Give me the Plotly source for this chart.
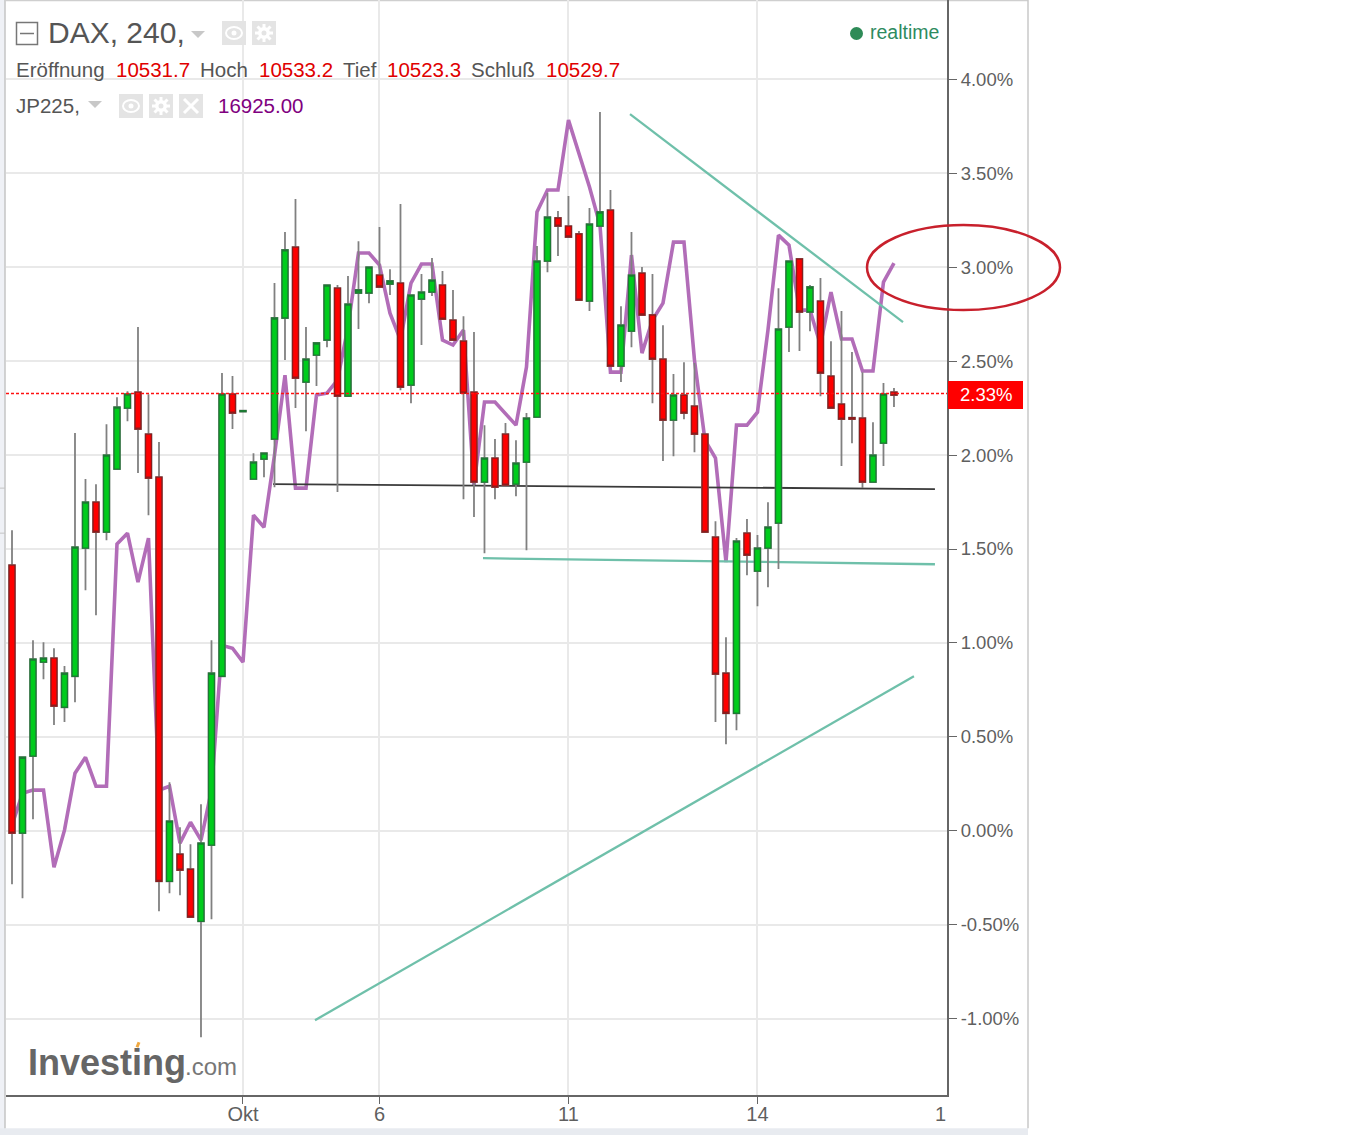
import plotly.graph_objects as go

# --- data (percent change) ---
BAR_INDEX = list(range(85))
OPEN = [1.414,-0.012,0.398,0.898,0.919,0.658,0.823,1.505,1.749,1.590,1.925,2.250,2.335,2.111,1.882,-0.268,-0.124,-0.204,-0.481,-0.076,
        0.823,2.324,2.231,1.872,1.978,2.085,2.729,3.106,2.388,2.532,2.612,2.888,2.313,2.862,2.862,2.957,2.910,2.915,2.372,2.830,
        2.867,2.904,2.718,2.606,2.335,1.856,1.984,2.111,1.845,1.962,2.202,3.032,3.261,3.218,3.176,2.819,3.218,3.303,2.473,2.659,
        2.968,2.745,2.510,2.186,2.319,2.260,2.111,1.563,0.839,0.626,1.584,1.382,1.505,1.638,2.681,3.043,2.761,2.819,2.420,2.271,
        2.199,2.196,1.856,2.063,2.335]
HIGH = [1.600,0.392,1.015,1.004,0.972,0.877,2.117,1.872,1.845,2.164,2.308,2.340,2.681,2.324,2.069,0.259,0.020,-0.071,0.142,1.015,
        2.436,2.420,2.236,2.010,2.010,2.915,3.186,3.362,2.681,2.596,2.904,2.904,2.952,3.138,3.000,3.213,2.989,3.335,2.851,2.963,
        3.048,2.979,2.878,2.739,2.654,2.159,2.085,2.170,2.079,2.223,3.112,3.394,3.298,3.378,3.192,3.314,3.825,3.410,2.792,3.186,
        3.000,2.963,2.691,2.431,2.494,2.489,2.111,1.648,1.031,1.558,1.659,1.574,1.749,2.888,3.032,3.043,2.904,2.942,2.606,2.766,
        2.548,2.441,2.175,2.383,2.356]
LOW = [-0.284,-0.358,0.062,0.807,0.563,0.579,0.685,1.281,1.148,1.547,1.925,2.180,1.904,1.680,-0.427,-0.332,-0.342,-0.459,-1.098,-0.470,
       0.823,2.138,2.231,1.872,1.882,1.829,2.505,2.250,2.127,2.367,2.574,1.803,2.313,2.670,2.808,2.894,2.851,2.345,2.276,2.585,
       2.846,2.723,2.612,1.765,1.670,1.478,1.765,1.840,1.781,1.494,2.202,2.973,3.059,3.160,2.824,2.766,3.218,2.473,2.388,2.574,
       2.745,2.276,1.968,1.994,2.191,2.015,1.590,0.579,0.461,0.536,1.361,1.196,1.297,1.393,2.548,2.553,2.659,2.313,2.250,1.941,
       2.063,1.824,1.856,1.941,2.255]
CLOSE = [-0.012,0.392,0.914,0.919,0.664,0.839,1.510,1.749,1.590,1.999,2.255,2.324,2.138,1.877,-0.268,0.052,-0.209,-0.459,-0.065,0.839,
         2.324,2.223,2.236,1.962,2.010,2.729,3.091,2.409,2.510,2.596,2.904,2.313,2.803,2.878,3.000,2.894,2.926,2.361,2.851,2.867,
         2.931,2.723,2.612,2.329,1.856,1.984,1.829,1.840,1.957,2.196,3.032,3.266,3.218,3.160,2.824,3.229,3.293,2.473,2.691,2.957,
         2.745,2.510,2.186,2.319,2.223,2.111,1.590,0.834,0.626,1.542,1.467,1.505,1.616,2.670,3.032,2.761,2.894,2.436,2.250,2.191,
         2.191,1.856,2.000,2.324,2.319]
JP225 = [0.030,0.201,0.217,0.217,-0.193,0.004,0.307,0.392,0.238,0.238,1.526,1.584,1.324,1.558,0.217,0.238,-0.065,0.046,-0.049,0.217,
         0.988,0.972,0.898,1.680,1.616,1.999,2.425,1.824,1.824,2.319,2.329,2.399,2.681,3.075,3.075,3.011,2.755,2.612,2.915,3.016,
         3.016,2.612,2.585,2.665,1.840,2.282,2.282,2.223,2.159,2.468,3.293,3.410,3.410,3.782,3.607,3.426,3.224,2.441,2.441,3.064,
         2.542,2.718,2.808,3.133,3.133,2.505,2.079,1.984,1.430,2.159,2.159,2.228,2.665,3.170,3.117,2.771,2.771,2.585,2.867,2.617,
         2.617,2.447,2.447,2.920,3.021]
LAST_PCT = 2.327
YTICKS = [-1, -0.5, 0, 0.5, 1, 1.5, 2, 2.5, 3, 3.5, 4]
YLABELS = ["-1.00%", "-0.50%", "0.00%", "0.50%", "1.00%", "1.50%", "2.00%", "2.50%", "3.00%", "3.50%", "4.00%"]
XTICKS = [22, 35, 53, 71]
XLABELS = ["Okt", "6", "11", "14"]
TREND_DOWN_X = [58.86, 84.86]; TREND_DOWN_Y = [3.814, 2.707]
TREND_UP_X = [28.86, 85.9]; TREND_UP_Y = [-1.007, 0.823]
SUPPORT_X = [44.86, 87.9]; SUPPORT_Y = [1.451, 1.419]
BLACK_X = [24.86, 87.9]; BLACK_Y = [1.845, 1.819]

# --- layout helpers ---
W, H = 1361, 1135
L, R, B = 6, 947, 1094.7
XR = [-0.571, 89.05]
YR = [-1.405, 4.421]
FONT = "Liberation Sans"
GREY = "#5f5f5f"


def px(x):
    return (x - L) / (R - L)


def py(y):
    return (B - y) / B


shapes = []
ann = []


def rect(x0, y0, x1, y1, fill=None, line=None, lw=0, layer="above", kind="rect"):
    shapes.append(dict(type=kind, xref="paper", yref="paper", x0=px(x0), x1=px(x1), y0=py(y0), y1=py(y1),
                       fillcolor=fill, line=dict(color=line or "rgba(0,0,0,0)", width=lw), layer=layer))


def seg(x0, y0, x1, y1, color, lw=1.0, layer="above"):
    shapes.append(dict(type="line", xref="paper", yref="paper", x0=px(x0), x1=px(x1), y0=py(y0), y1=py(y1),
                       line=dict(color=color, width=lw), layer=layer))


def tri(x0, x1, y0, y1, color):
    xm = (x0 + x1) / 2
    shapes.append(dict(type="path", xref="paper", yref="paper",
                       path=f"M {px(x0)} {py(y0)} L {px(x1)} {py(y0)} L {px(xm)} {py(y1)} Z",
                       fillcolor=color, line=dict(width=0), layer="above"))


def text(x, y, s, color, size, anchor="left", **kw):
    ann.append(dict(x=px(x), y=py(y), xref="paper", yref="paper", text=s, showarrow=False, xanchor=anchor,
                    yanchor="middle", font=dict(family=FONT, size=size, color=color), borderpad=0, **kw))


# frame of the widget
rect(0, 0, 5, 1135, fill="#eff1f6", layer="below")
rect(0, 1128, 1028, 1135, fill="#e8ebf0", layer="below")
seg(5, 0, 5, 1128, "#c4c4c4", 1.5, "below")
seg(5, 0.5, 1028, 0.5, "#cfcfcf", 1.5, "below")
seg(1028, 0, 1028, 1128, "#c8c8c8", 1.5, "below")
seg(0, 488, 5, 488, "#c4c4c4", 1, "below")
seg(0, 533, 5, 533, "#c4c4c4", 1, "below")

# header icons
rect(16.5, 22.5, 37.5, 44.5, line="#777777", lw=1.5)
seg(20, 33.5, 34, 33.5, "#777777", 1.5)
tri(191, 205, 31, 38, "#c8c8c8")
tri(88, 102, 101, 108, "#c8c8c8")
for x0, y0 in [(222, 21), (252, 21), (119, 94), (149, 94), (179, 94)]:
    rect(x0, y0, x0 + 24, y0 + 24, fill="#e4e4e4")
for cx, cy in [(234, 33), (131, 106)]:
    rect(cx - 8, cy - 6, cx + 8, cy + 6, line="#ffffff", lw=2, kind="circle")
    rect(cx - 2.5, cy - 2.5, cx + 2.5, cy + 2.5, fill="#ffffff", kind="circle")
for cx, cy in [(264, 33), (161, 106)]:
    seg(cx, cy - 9, cx, cy + 9, "#ffffff", 3)
    seg(cx - 9, cy, cx + 9, cy, "#ffffff", 3)
    seg(cx - 6.5, cy - 6.5, cx + 6.5, cy + 6.5, "#ffffff", 3)
    seg(cx - 6.5, cy + 6.5, cx + 6.5, cy - 6.5, "#ffffff", 3)
    rect(cx - 6, cy - 6, cx + 6, cy + 6, fill="#ffffff", kind="circle")
    rect(cx - 2.5, cy - 2.5, cx + 2.5, cy + 2.5, fill="#e4e4e4", kind="circle")
seg(184, 99, 198, 113, "#ffffff", 3)
seg(184, 113, 198, 99, "#ffffff", 3)
rect(850, 27, 863, 40, fill="#2e8b57", kind="circle")

# red highlight ellipse
rect(867, 225, 1060, 310, line="#c8202c", lw=2.5, kind="circle")

# last value flag
rect(948, 381, 1023, 409, fill="#ff0000")

# header text
text(47, 32.5, "DAX, 240,", "#555555", 30)
text(14.5, 69, "Eröffnung", "#555555", 20.5)
text(114.5, 69, "10531.7", "#e00000", 20.5)
text(198.5, 69, "Hoch", "#555555", 20.5)
text(257.5, 69, "10533.2", "#e00000", 20.5)
text(341.5, 69, "Tief", "#555555", 20.5)
text(385.5, 69, "10523.3", "#e00000", 20.5)
text(469.5, 69, "Schluß", "#555555", 20.5)
text(544.5, 69, "10529.7", "#e00000", 20.5)
text(14.5, 105, "JP225,", "#555555", 20.5)
text(217, 105, "16925.00", "#800080", 20.5)
text(869, 32, "realtime", "#2e8b5f", 19.5)
text(959, 394, "2.33%", "#ffffff", 18.5)
text(940, 1114, "1", GREY, 20, anchor="center")

# logo
text(27, 1062, "<b>Investing</b>", "#666666", 36)
text(184, 1066, ".com", "#777777", 24)
seg(137, 1047, 139, 1042, "#f0a840", 3)

fig = go.Figure()
fig.add_trace(go.Scatter(x=BAR_INDEX, y=JP225, mode="lines", line=dict(color="#b26db8", width=3.6), hoverinfo="skip"))
for xs, ys, col, w in [(TREND_DOWN_X, TREND_DOWN_Y, "#6fc0aa", 2.3), (TREND_UP_X, TREND_UP_Y, "#6fc0aa", 2.3),
                       (SUPPORT_X, SUPPORT_Y, "#6fc0aa", 2.3), (BLACK_X, BLACK_Y, "#3a3a3a", 1.8)]:
    fig.add_trace(go.Scatter(x=xs, y=ys, mode="lines", line=dict(color=col, width=w), hoverinfo="skip"))

# wicks, then bodies, on an overlaid axis so they sit above the lines
fig.add_trace(go.Candlestick(x=BAR_INDEX, open=OPEN, high=HIGH, low=LOW, close=CLOSE, yaxis="y2", whiskerwidth=0,
                             increasing=dict(line=dict(color="#808080", width=1.8), fillcolor="#808080"),
                             decreasing=dict(line=dict(color="#808080", width=1.8), fillcolor="#808080"),
                             hoverinfo="skip"))
TOP = [max(o, c) for o, c in zip(OPEN, CLOSE)]
BOT = [min(o, c) for o, c in zip(OPEN, CLOSE)]
fig.add_trace(go.Candlestick(x=BAR_INDEX, open=OPEN, high=TOP, low=BOT, close=CLOSE, yaxis="y2", whiskerwidth=0,
                             increasing=dict(line=dict(color="#1c7a33", width=1.3), fillcolor="#00cc1c"),
                             decreasing=dict(line=dict(color="#8c1c1c", width=1.3), fillcolor="#ff0000"),
                             hoverinfo="skip"))
fig.add_trace(go.Scatter(x=XR, y=[LAST_PCT, LAST_PCT], yaxis="y2", mode="lines",
                         line=dict(color="#ff1010", width=1.6, dash="3px 2px"), hoverinfo="skip"))

fig.update_layout(
    width=W, height=H, autosize=False, showlegend=False,
    margin=dict(l=L, r=W - R, t=0, b=H - B, pad=0),
    paper_bgcolor="#ffffff", plot_bgcolor="#ffffff", boxgap=0.2, boxmode="overlay",
    font=dict(family=FONT),
    shapes=shapes, annotations=ann,
    xaxis=dict(type="linear", range=XR, fixedrange=True, rangeslider=dict(visible=False),
               tickmode="array", tickvals=XTICKS, ticktext=XLABELS, ticks="outside", ticklen=7,
               tickwidth=1.2, tickcolor="#666666", tickfont=dict(family=FONT, size=20, color=GREY),
               ticklabelstandoff=-7,
               showgrid=True, gridcolor="#e9e9e9", gridwidth=1.5, zeroline=False,
               showline=True, linecolor="#666666", linewidth=2),
    yaxis=dict(range=YR, side="right", fixedrange=True, tickmode="array", tickvals=YTICKS, ticktext=YLABELS,
               ticks="outside", ticklen=8, tickwidth=1.2, tickcolor="#666666",
               tickfont=dict(family=FONT, size=18.5, color=GREY),
               showgrid=True, gridcolor="#e9e9e9", gridwidth=1.5, zeroline=False,
               showline=True, linecolor="#666666", linewidth=2),
    yaxis2=dict(range=YR, overlaying="y", side="right", visible=False, fixedrange=True),
)

fig.write_html("out.html", config=dict(displayModeBar=False),
               post_script="document.body.style.margin='0';")
